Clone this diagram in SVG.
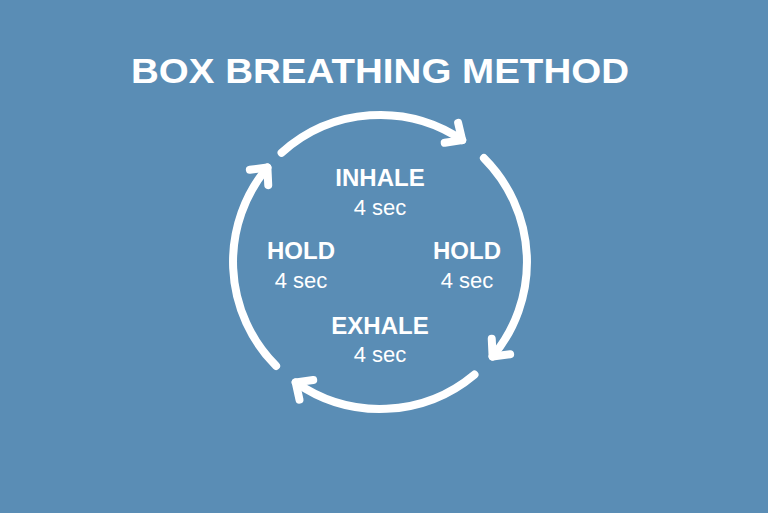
<svg xmlns="http://www.w3.org/2000/svg" width="768" height="513" viewBox="0 0 768 513">
<style>
.t{font-family:"Liberation Sans",Arial,sans-serif;fill:#fff;text-anchor:middle}
.h{font-weight:bold;font-size:24px}
.s{font-size:22px}
.arc{fill:none;stroke:#fff;stroke-width:8;stroke-linecap:round}
</style>
<defs>
<marker id="ah" markerUnits="userSpaceOnUse" markerWidth="40" markerHeight="40" viewBox="-20 -20 40 40" refX="0" refY="0" orient="auto">
<path d="M-13 -12 L0 0 L-13 12" fill="none" stroke="#fff" stroke-width="8" stroke-linecap="round" stroke-linejoin="round"/>
</marker>
</defs>
<rect width="768" height="513" fill="#5a8db5"/>
<text class="t" x="380" y="83" textLength="498" lengthAdjust="spacingAndGlyphs" style="font-weight:bold;font-size:35px">BOX BREATHING METHOD</text>
<g id="connectors">
<path class="arc" marker-end="url(#ah)" d="M281.6 152.8 A147 147 0 0 1 462.2 140.1"/>
<path class="arc" marker-end="url(#ah)" d="M483.9 158.1 A147 147 0 0 1 492.6 356.5"/>
<path class="arc" marker-end="url(#ah)" d="M474.5 374.6 A147 147 0 0 1 295.7 382.4"/>
<path class="arc" marker-end="url(#ah)" d="M276.1 365.9 A147 147 0 0 1 267.4 167.5"/>
</g>
<g id="inhale"><text class="t h" x="380" y="186">INHALE</text><text class="t s" x="380" y="215">4 sec</text></g>
<g id="hold-left"><text class="t h" x="301" y="259">HOLD</text><text class="t s" x="301" y="288">4 sec</text></g>
<g id="hold-right"><text class="t h" x="467" y="259">HOLD</text><text class="t s" x="467" y="288">4 sec</text></g>
<g id="exhale"><text class="t h" x="380" y="334">EXHALE</text><text class="t s" x="380" y="362">4 sec</text></g>
</svg>
